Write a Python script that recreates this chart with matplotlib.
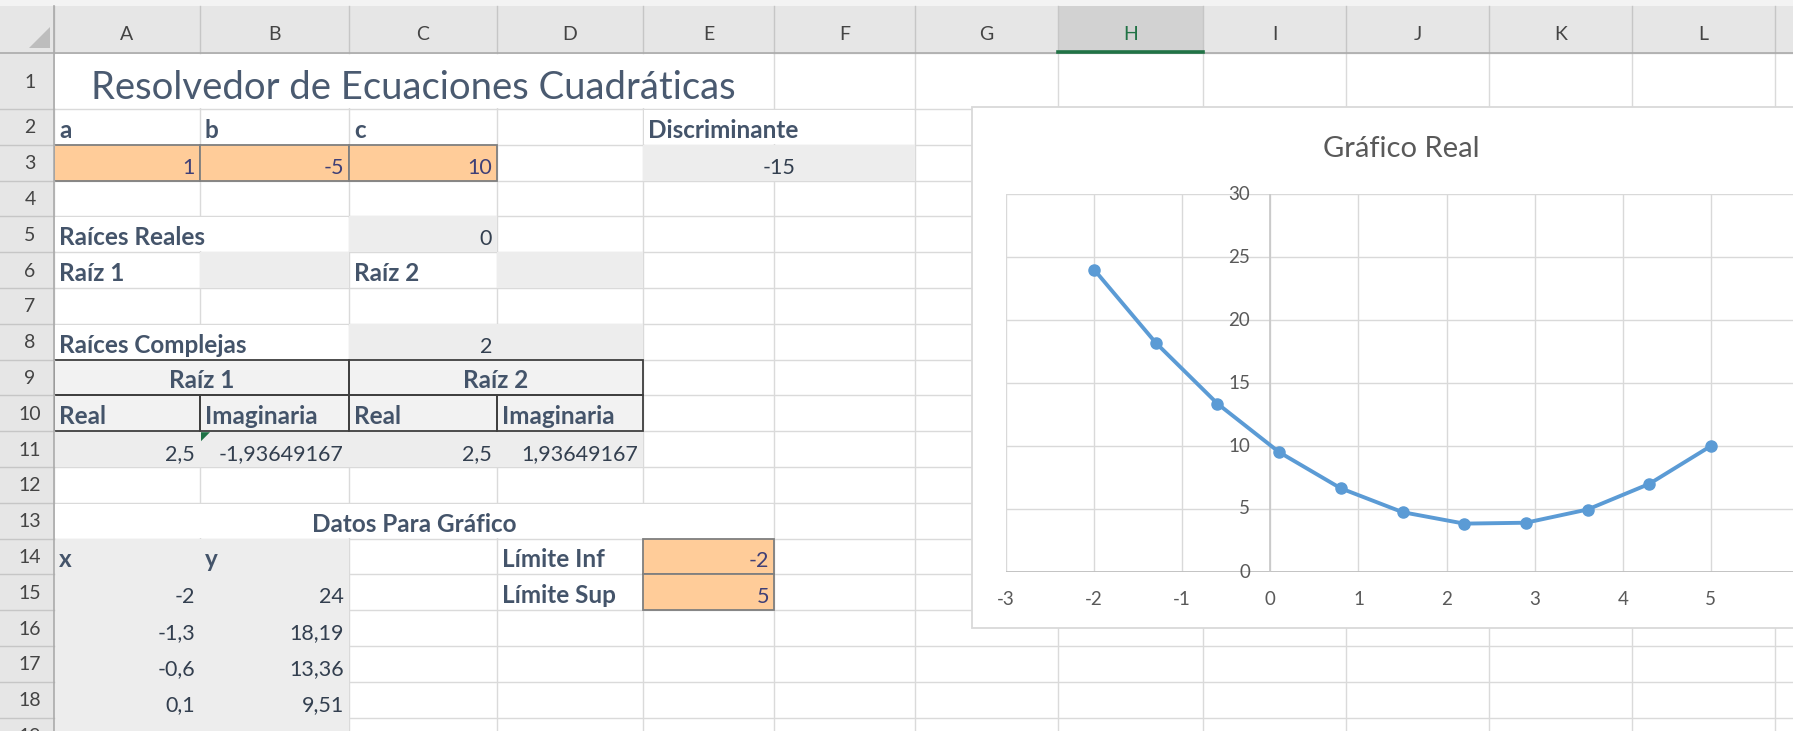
import matplotlib
matplotlib.use("Agg")
import matplotlib.pyplot as plt
import matplotlib.transforms as mtransforms
from matplotlib.patches import Rectangle, Polygon

plt.rcParams['font.family'] = ['Lato', 'DejaVu Sans']

# ---- datos de la hoja ----
titulo_hoja = "Resolvedor de Ecuaciones Cuadráticas"
coef_nombres = ["a", "b", "c"]
coef_valores = ["1", "-5", "10"]
discriminante = "-15"
raices_reales = "0"
raices_complejas = "2"
raiz1 = ["2,5", "-1,93649167"]
raiz2 = ["2,5", "1,93649167"]
limite_inf = "-2"
limite_sup = "5"

# ---- datos del gráfico ----
x_vals = [-2, -1.3, -0.6, 0.1, 0.8, 1.5, 2.2, 2.9, 3.6, 4.3, 5]
y_vals = [24, 18.19, 13.36, 9.51, 6.64, 4.75, 3.84, 3.91, 4.96, 6.99, 10]
x_ticks = [-3, -2, -1, 0, 1, 2, 3, 4, 5, 6]
y_ticks = [0, 5, 10, 15, 20, 25, 30]

W, H = 1793, 731
fig = plt.figure(figsize=(W / 100, H / 100), dpi=100)
ax0 = fig.add_axes([0, 0, 1, 1])
ax0.set_xlim(0, W)
ax0.set_ylim(H, 0)
ax0.axis('off')

col_edges = [54, 200, 349, 497, 643, 774, 915, 1058, 1203, 1346, 1489, 1632, 1775, 1918]
col_names = list("ABCDEFGHIJKL")
row_edges = [53, 109] + [109 + 35.8 * k for k in range(1, 19)]

GRID = '#DADADA'
LBL = '#44546A'
VAL = '#333F4F'
INP = '#3F3F76'
GRAY = '#EDEDED'
ORANGE = '#FFCC99'
FS = 15.5
FS_B = 17.5


def cell(r, c):
    # (x0, y0, x1, y1) de la celda fila r (1..), columna c (0=A)
    return col_edges[c], row_edges[r - 1], col_edges[c + 1], row_edges[r]


def rect(x0, y0, x1, y1, fc, ec='none', lw=0, z=2):
    ax0.add_patch(Rectangle((x0, y0), x1 - x0, y1 - y0, facecolor=fc,
                            edgecolor=ec, linewidth=lw, zorder=z))


def put(r, c, s, align='left', bold=False, color=VAL, c2=None):
    x0, y0, x1, y1 = cell(r, c)
    if c2 is not None:
        x1 = col_edges[c2 + 1]
    if align == 'left':
        x = x0 + 5
    elif align == 'right':
        x = x1 - 5
    else:
        x = (x0 + x1) / 2
    ax0.text(x, y1 - 7, s, ha=align, va='baseline', fontsize=FS_B if bold else FS,
             fontweight='bold' if bold else 'normal', color=color, zorder=6)


# cuadrícula
for y in row_edges:
    ax0.plot([col_edges[0], W], [y, y], color=GRID, lw=1.0, zorder=1)
for x in col_edges:
    ax0.plot([x, x], [row_edges[0], H], color=GRID, lw=1.0, zorder=1)

# celdas combinadas / texto desbordado (ocultan líneas)
for (r, c0, c1) in [(1, 0, 4), (13, 0, 4), (5, 0, 1), (8, 0, 1), (2, 4, 5)]:
    x0, y0, _, y1 = cell(r, c0)
    x1 = col_edges[c1 + 1]
    rect(x0 + 1, y0 + 1, x1 - 1, y1 - 1, 'white')

# rellenos grises
for (r0, r1, c0, c1) in [(3, 3, 4, 5), (5, 5, 2, 2), (6, 6, 1, 1), (6, 6, 3, 3),
                         (8, 8, 2, 3), (11, 11, 0, 3), (14, 20, 0, 1)]:
    rect(col_edges[c0], row_edges[r0 - 1], col_edges[c1 + 1], row_edges[min(r1, 19)], GRAY)

# tabla de raíces con bordes
rect(col_edges[0], row_edges[8], col_edges[4], row_edges[10], '#F2F2F2')
for (x0, y0, x1, y1) in [(0, 9, 2, 10), (2, 9, 4, 10), (0, 10, 1, 11), (1, 10, 2, 11),
                         (2, 10, 3, 11), (3, 10, 4, 11)]:
    ax0.add_patch(Rectangle((col_edges[x0], row_edges[y0 - 1]),
                            col_edges[x1] - col_edges[x0], row_edges[y1 - 1] - row_edges[y0 - 1],
                            facecolor='none', edgecolor='#3F3F3F', lw=1.3, zorder=4))

# celdas de entrada
for (r, c) in [(3, 0), (3, 1), (3, 2), (14, 4), (15, 4)]:
    x0, y0, x1, y1 = cell(r, c)
    rect(x0, y0, x1, y1, ORANGE, '#7F7F7F', 1.3, z=4)

# triángulo verde de error en B11
bx, by = col_edges[1] + 1, row_edges[10] + 1
ax0.add_patch(Polygon([[bx, by], [bx + 9, by], [bx, by + 9]], closed=True,
                      facecolor='#1E7145', edgecolor='none', zorder=7))

# textos
ax0.text(91, 99, titulo_hoja, ha='left', va='baseline', fontsize=27.5,
         fontweight='normal', color='#4A5A70', zorder=6)
for i, (n, v) in enumerate(zip(coef_nombres, coef_valores)):
    put(2, i, n, bold=True, color=LBL)
    put(3, i, v, align='right', color=INP)
put(2, 4, "Discriminante", bold=True, color=LBL)
put(3, 4, discriminante, align='center', c2=5)
put(5, 0, "Raíces Reales", bold=True, color=LBL)
put(5, 2, raices_reales, align='right')
put(6, 0, "Raíz 1", bold=True, color=LBL)
put(6, 2, "Raíz 2", bold=True, color=LBL)
put(8, 0, "Raíces Complejas", bold=True, color=LBL)
put(8, 2, raices_complejas, align='right')
put(9, 0, "Raíz 1", align='center', bold=True, color=LBL, c2=1)
put(9, 2, "Raíz 2", align='center', bold=True, color=LBL, c2=3)
for c, s in enumerate(["Real", "Imaginaria", "Real", "Imaginaria"]):
    put(10, c, s, bold=True, color=LBL)
for c, s in enumerate(raiz1 + raiz2):
    put(11, c, s, align='right')
put(13, 0, "Datos Para Gráfico", align='center', bold=True, color=LBL, c2=4)
put(14, 0, "x", bold=True, color=LBL)
put(14, 1, "y", bold=True, color=LBL)
put(14, 3, "Límite Inf", bold=True, color=LBL)
put(15, 3, "Límite Sup", bold=True, color=LBL)
put(14, 4, limite_inf, align='right', color=INP)
put(15, 4, limite_sup, align='right', color=INP)
for i in range(5):
    put(15 + i, 0, f"{x_vals[i]:g}".replace('.', ','), align='right')
    put(15 + i, 1, f"{y_vals[i]:g}".replace('.', ','), align='right')

# encabezados
rect(0, 0, W, 6, '#F3F3F3', z=8)
rect(0, 6, W, 53, '#E6E6E6', z=8)
rect(0, 53, 54, H, '#E6E6E6', z=8)
rect(col_edges[7], 6, col_edges[8], 53, '#D2D2D2', z=8)
for x in col_edges:
    ax0.plot([x, x], [6, 53], color='#C6C6C6', lw=1.0, zorder=9)
for y in row_edges[1:]:
    ax0.plot([0, 54], [y, y], color='#C6C6C6', lw=1.0, zorder=9)
ax0.plot([0, W], [53, 53], color='#ABABAB', lw=1.2, zorder=9)
ax0.plot([54, 54], [6, H], color='#ABABAB', lw=1.2, zorder=9)
ax0.plot([col_edges[7], col_edges[8]], [51.5, 51.5], color='#217346', lw=2.6, zorder=10)
ax0.add_patch(Polygon([[50, 27], [50, 48], [29, 48]], closed=True,
                      facecolor='#BDBDBD', edgecolor='none', zorder=9))
for i, n in enumerate(col_names):
    ax0.text((col_edges[i] + col_edges[i + 1]) / 2, 34, n, ha='center', va='center',
             fontsize=14, color='#217346' if n == 'H' else '#444444', zorder=10)
for r in range(1, 20):
    ax0.text(30, (row_edges[r - 1] + row_edges[r]) / 2 + 1, str(r), ha='center',
             va='center', fontsize=14, color='#444444', zorder=10)

# caja del gráfico
rect(972, 107, 1840, 628, 'white', '#D9D9D9', 1.3, z=20)

# gráfico
ax = fig.add_axes([1006 / W, 1 - 572 / H, (1799 - 1006) / W, (572 - 194) / H])
ax.set_zorder(30)
ax.patch.set_alpha(0)
ax.set_xlim(-3, 6)
ax.set_ylim(0, 30)
ax.set_xticks(x_ticks)
ax.set_xticklabels([str(t) if t < 6 else '' for t in x_ticks])
ax.set_yticks(y_ticks)
ax.set_yticklabels([])
ax.grid(True, color='#D9D9D9', lw=1.0)
ax.set_axisbelow(True)
for sp in ax.spines.values():
    sp.set_visible(False)
ax.tick_params(length=0, pad=14, labelsize=13.5, labelcolor='#595959')
ax.axhline(0, color='#BFBFBF', lw=1.3, zorder=2)
ax.axvline(0, color='#C8C8C8', lw=1.2, zorder=2)
off = mtransforms.offset_copy(ax.transData, fig=fig, x=-20, y=0, units='dots')
for t in y_ticks:
    ax.text(0, t, str(t), transform=off, ha='right', va='center', fontsize=13.5,
            color='#595959', clip_on=False)
ax.plot(x_vals, y_vals, color='#5B9BD5', lw=2.8, marker='o', ms=8, zorder=5)
fig.text(1401 / W, 1 - 149 / H, "Gráfico Real", ha='center', va='center',
         fontsize=21, color='#595959', zorder=40)

fig.savefig("out.png", dpi=100)
